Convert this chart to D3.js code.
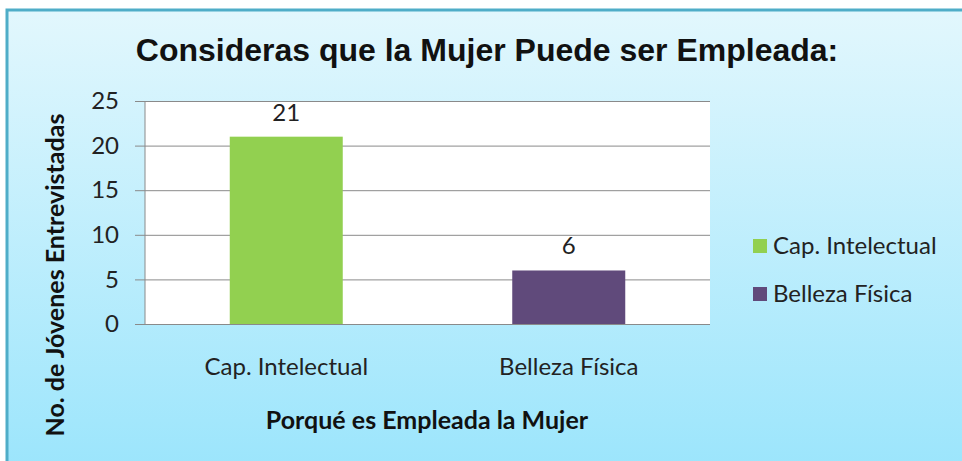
<!DOCTYPE html>
<html>
<head>
<meta charset="utf-8">
<script src="https://cdn.jsdelivr.net/npm/d3@7.9.0/dist/d3.min.js"></script>
<style>
  html, body { margin: 0; padding: 0; background: #fff; }
  svg { display: block; }
</style>
</head>
<body>
<div id="chart"></div>
<script>
const categories = ["Cap. Intelectual", "Belleza Física"];
const values = [21, 6];
const colors = ["#92D050", "#604A7B"];
const yTicks = [0, 5, 10, 15, 20, 25];

const title = "Consideras que la Mujer Puede ser Empleada:";
const xTitle = "Porqué es Empleada la Mujer";
const yTitle = "No. de Jóvenes Entrevistadas";

const W = 962, H = 461;
const margin = {top: 101, right: 252, bottom: 137, left: 145};
const width = W - margin.left - margin.right,
    height = H - margin.top - margin.bottom;

const font = "Lato, 'Open Sans', sans-serif";

const svg = d3.select("#chart")
  .append("svg")
    .attr("width", W)
    .attr("height", H);

// background gradient
const grad = svg.append("defs").append("linearGradient")
    .attr("id", "bg")
    .attr("x1", 0).attr("y1", 0).attr("x2", 0).attr("y2", 1);
grad.append("stop").attr("offset", "0%").attr("stop-color", "#E2F7FD");
grad.append("stop").attr("offset", "100%").attr("stop-color", "#9BE5FC");

svg.append("rect")
    .attr("x", 8).attr("y", 11)
    .attr("width", W).attr("height", H)
    .attr("fill", "url(#bg)");
svg.append("path")
    .attr("d", `M7,${H} V10 H${W}`)
    .attr("fill", "none")
    .attr("stroke", "#4FADC8")
    .attr("stroke-width", 3);

// title
svg.append("text")
    .attr("x", 487).attr("y", 61)
    .attr("text-anchor", "middle")
    .style("font-family", "'Liberation Sans', Arial, sans-serif")
    .style("font-weight", "bold")
    .style("font-size", "32px")
    .attr("fill", "#111")
    .text(title);

const g = svg.append("g")
    .attr("transform", `translate(${margin.left}, ${margin.top})`);

g.append("rect")
    .attr("width", width).attr("height", height)
    .attr("fill", "#fff");

const x = d3.scaleBand()
    .domain(categories)
    .range([0, width]);

const y = d3.scaleLinear()
    .domain([0, 25])
    .range([height, 0]);

// gridlines + y axis
const yAxis = g.append("g")
    .call(d3.axisLeft(y).tickValues(yTicks).tickSize(0).tickPadding(26));
yAxis.select(".domain").remove();
yAxis.selectAll(".tick line")
    .attr("stroke", "#8a8a8a")
    .attr("x1", -10).attr("x2", width);
yAxis.selectAll(".tick text")
    .attr("fill", "#222")
    .style("font-family", font)
    .style("font-size", "24px");

g.append("line")
    .attr("x1", 0).attr("x2", 0)
    .attr("y1", 0).attr("y2", height)
    .attr("stroke", "#8a8a8a");

// bars
const barW = x.bandwidth() * 0.4;
g.selectAll("rect.bar")
  .data(d3.zip(categories, values, colors))
  .join("rect")
    .attr("class", "bar")
    .attr("x", ([c]) => x(c) + (x.bandwidth() - barW) / 2)
    .attr("y", ([, v]) => y(v))
    .attr("width", barW)
    .attr("height", ([, v]) => y(0) - y(v))
    .attr("fill", ([, , col]) => col);

// value labels
g.selectAll("text.val")
  .data(d3.zip(categories, values))
  .join("text")
    .attr("class", "val")
    .attr("x", ([c]) => x(c) + x.bandwidth() / 2)
    .attr("y", ([, v]) => y(v) - 16)
    .attr("text-anchor", "middle")
    .attr("fill", "#222")
    .style("font-family", font)
    .style("font-size", "24px")
    .text(([, v]) => v);

// x axis labels
const xAxis = g.append("g")
    .attr("transform", `translate(0, ${height})`)
    .call(d3.axisBottom(x).tickSize(0).tickPadding(34));
xAxis.select(".domain").remove();
xAxis.selectAll(".tick text")
    .attr("fill", "#222")
    .style("font-family", font)
    .style("font-size", "24px");

// axis titles
svg.append("text")
    .attr("x", 427).attr("y", 429)
    .attr("text-anchor", "middle")
    .style("font-family", font)
    .style("font-weight", "bold")
    .style("font-size", "25px")
    .attr("fill", "#111")
    .text(xTitle);

svg.append("text")
    .attr("transform", "translate(64, 275) rotate(-90)")
    .attr("text-anchor", "middle")
    .style("font-family", font)
    .style("font-weight", "bold")
    .style("font-size", "25px")
    .attr("fill", "#111")
    .text(yTitle);

// legend
const legend = svg.append("g")
    .attr("transform", "translate(753, 239)");
const item = legend.selectAll("g")
  .data(d3.zip(categories, colors))
  .join("g")
    .attr("transform", (d, i) => `translate(0, ${i * 48})`);
item.append("rect")
    .attr("width", 14).attr("height", 14)
    .attr("fill", ([, col]) => col);
item.append("text")
    .attr("x", 20).attr("y", 7)
    .attr("dy", "0.35em")
    .attr("fill", "#222")
    .style("font-family", font)
    .style("font-size", "24px")
    .text(([c]) => c);
</script>
</body>
</html>
